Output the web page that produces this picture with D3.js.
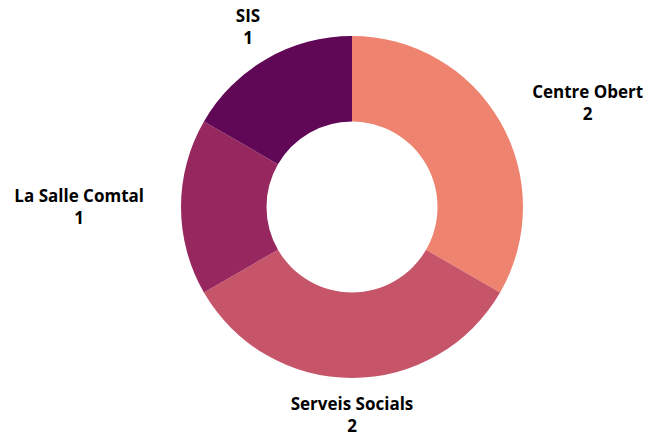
<!DOCTYPE html>
<html><head><meta charset="utf-8">
<script src="https://cdn.jsdelivr.net/npm/d3@7"></script>
<style>html,body{margin:0;padding:0;background:#fff;}svg{display:block;}</style>
</head><body>
<svg id="chart" width="654" height="439"></svg>
<script>
const categories = ["Centre Obert", "Serveis Socials", "La Salle Comtal", "SIS"];
const values = [2, 2, 1, 1];
const colors = ["#ee836f", "#c7556a", "#97285f", "#600856"];

const W = 654, H = 439, cx = 352, cy = 207, outerR = 171, innerR = 85.5, labelR = 208;
const fontSize = 17, lineGap = 22, capH = 12;
const svg = d3.select("#chart");
const data = categories.map((c, i) => ({ name: c, value: values[i], color: colors[i] }));
const pie = d3.pie().value(d => d.value).sort(null);
const arc = d3.arc().innerRadius(innerR).outerRadius(outerR);
const g = svg.append("g").attr("transform", `translate(${cx},${cy})`);
const arcs = pie(data);
g.selectAll("path").data(arcs).join("path")
  .attr("d", arc).attr("fill", d => d.data.color);

arcs.forEach(a => {
  const mid = (a.startAngle + a.endAngle) / 2;
  const sx = Math.sin(mid), cyv = -Math.cos(mid);
  const x = labelR * sx, y = labelR * cyv;
  let anchor = "middle";
  if (sx > 0.6) anchor = "start"; else if (sx < -0.6) anchor = "end";
  const t = g.append("text")
    .attr("font-family", "'Open Sans', sans-serif")
    .attr("font-weight", "bold").attr("font-size", fontSize).attr("fill", "#000")
    .attr("text-anchor", "middle");
  t.append("tspan").attr("x", 0).attr("y", 0).text(a.data.name);
  t.append("tspan").attr("x", 0).attr("y", lineGap).text(a.data.value);
  const wName = t.select("tspan").node().getComputedTextLength();
  const bx = anchor === "start" ? x + wName / 2 : anchor === "end" ? x - wName / 2 : x;
  const base1 = y - (capH + lineGap) / 2 + capH;
  t.attr("transform", `translate(${bx},${base1})`);
});
</script>
</body></html>
